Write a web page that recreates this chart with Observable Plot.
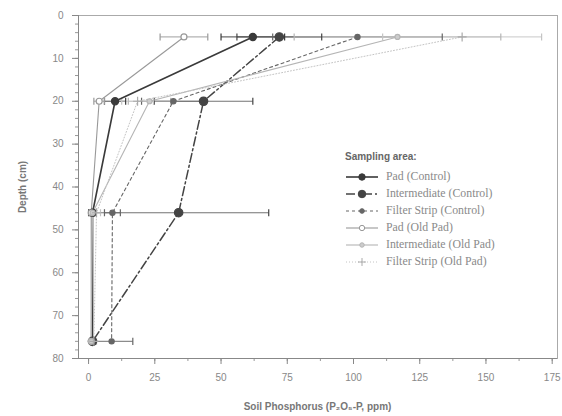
<!DOCTYPE html>
<html><head><meta charset="utf-8">
<script src="https://cdn.jsdelivr.net/npm/d3@7"></script>
<script src="https://cdn.jsdelivr.net/npm/@observablehq/plot@0.6"></script>
<style>
body{margin:0;background:#fff;}
#wrap{position:relative;width:562px;height:416px;overflow:hidden;}
#legend{position:absolute;left:345px;top:151px;font-family:"Liberation Serif",serif;font-size:11.8px;color:#8a8a8a;}
#legend .title{font-family:"Liberation Sans",Arial,sans-serif;font-weight:bold;font-size:10px;color:#666;height:17px;}
#legend .row{height:17px;display:flex;align-items:center;white-space:nowrap;}
#legend svg{margin-right:7px;}
#xlabel{position:absolute;top:401px;left:78px;width:479px;text-align:center;font-family:"Liberation Sans",Arial,sans-serif;font-size:10px;font-weight:bold;color:#777;}
#ylabel{position:absolute;left:22px;top:187px;transform:translate(-50%,-50%) rotate(-90deg);font-family:"Liberation Sans",Arial,sans-serif;font-size:10px;font-weight:bold;color:#777;white-space:nowrap;}
</style></head><body><div id="wrap"><div id="chart"></div><div id="legend"></div><div id="xlabel">Soil Phosphorus (P₂O₅-P, ppm)</div><div id="ylabel">Depth (cm)</div></div>
<script>
// ---- data ----
const depths = [5, 20, 46, 76];
const seriesNames = ["Pad (Control)", "Intermediate (Control)", "Filter Strip (Control)", "Pad (Old Pad)", "Intermediate (Old Pad)", "Filter Strip (Old Pad)"];
const padControl = [62, 10, 1.5, 1.5];
const padControlErr = [12, 4, 0.8, 0.5];
const intControl = [72, 43.4, 34, 1.5];
const intControlErr = [16, 18.6, 34, 0.5];
const filterControl = [101.5, 32, 9, 8.7];
const filterControlErr = [32, 12, 3, 8];
const padOld = [36, 4, 1, 1];
const padOldErr = [9, 2, 0.5, 0.5];
const intOld = [116.6, 23, 1.5, 1];
const intOldErr = [39, 8, 1, 0.5];
const filterOld = [141, 18.5, 3, 2];
const filterOldErr = [30, 6, 1.5, 1];
const xTicks = [0, 25, 50, 75, 100, 125, 150, 175];
const yTicks = [0, 10, 20, 30, 40, 50, 60, 70, 80];

const values = [padControl, intControl, filterControl, padOld, intOld, filterOld];
const errs = [padControlErr, intControlErr, filterControlErr, padOldErr, intOldErr, filterOldErr];

// ---- styles ----
const styles = [
  {stroke: "#3a3a3a", dash: null, width: 1.6, symbol: "circle", r: 3.6, fill: "#3a3a3a", mstroke: "#3a3a3a"},
  {stroke: "#444", dash: "9,3,2,3", width: 1.5, symbol: "circle", r: 4.2, fill: "#444", mstroke: "#444"},
  {stroke: "#666", dash: "3,3", width: 1.1, symbol: "circle", r: 2.6, fill: "#666", mstroke: "#666"},
  {stroke: "#999", dash: null, width: 1.1, symbol: "circle", r: 3, fill: "#fff", mstroke: "#999"},
  {stroke: "#b5b5b5", dash: null, width: 1.1, symbol: "circle", r: 2.5, fill: "#ccc", mstroke: "#b5b5b5"},
  {stroke: "#c4c4c4", dash: "1,2", width: 1, symbol: "plus", r: 3, fill: "none", mstroke: "#aaa"}
];

const rows = [];
seriesNames.forEach((s, i) => depths.forEach((d, j) => rows.push({series: s, idx: i, depth: d, p: values[i][j], err: errs[i][j]})));

const capSymbol = {draw(ctx, size) { const h = Math.sqrt(size) / 2; ctx.moveTo(0, -h); ctx.lineTo(0, h); }};

const marks = [
  Plot.frame({stroke: "#aaa", strokeWidth: 1}),
  Plot.axisY({ticks: d3.range(0, 81, 2), tickSize: 3, tickFormat: () => "", stroke: "#999", label: null}),
  Plot.axisY({ticks: yTicks, tickSize: 6, tickPadding: 9, fontSize: 10, stroke: "#888", fill: "#888", label: null}),
  Plot.axisX({ticks: d3.range(0, 176, 12.5), tickSize: 3, tickFormat: () => "", stroke: "#999", label: null}),
  Plot.axisX({ticks: xTicks, tickSize: 6, tickPadding: 9, fontSize: 10, stroke: "#888", fill: "#888", label: null}),
  Plot.ruleX([-3.8], {stroke: "#888"}),
  Plot.ruleY([80], {stroke: "#888"})
];

// error bars
const withErr = rows.filter(d => d.err > 0);
marks.push(Plot.link(withErr, {x1: d => d.p - d.err, x2: d => d.p + d.err, y1: "depth", y2: "depth", stroke: d => styles[d.idx].stroke, strokeOpacity: 0.75, strokeWidth: 1.2}));
marks.push(Plot.dot(withErr, {x: d => d.p - d.err, y: "depth", symbol: capSymbol, r: 4, stroke: d => styles[d.idx].stroke, strokeWidth: 1.2}));
marks.push(Plot.dot(withErr, {x: d => d.p + d.err, y: "depth", symbol: capSymbol, r: 4, stroke: d => styles[d.idx].stroke, strokeWidth: 1.2}));

// lines and markers
seriesNames.forEach((s, i) => {
  const st = styles[i];
  const data = rows.filter(d => d.idx === i);
  marks.push(Plot.line(data, {x: "p", y: "depth", stroke: st.stroke, strokeWidth: st.width, strokeDasharray: st.dash}));
});
seriesNames.forEach((s, i) => {
  const st = styles[i];
  const data = rows.filter(d => d.idx === i);
  marks.push(Plot.dot(data, {x: "p", y: "depth", symbol: st.symbol, r: st.r, fill: st.fill, stroke: st.mstroke, strokeWidth: 1.2}));
});

const chart = Plot.plot({
  width: 562, height: 416,
  marginTop: 15, marginBottom: 58, marginLeft: 78, marginRight: 5,
  style: {fontFamily: "'Liberation Sans', Arial, sans-serif", fontSize: "10px", color: "#888", background: "#fff"},
  x: {domain: [-3.8, 177], axis: null, label: null},
  y: {domain: [0, 80], reverse: true, axis: null, label: null},
  marks
});
document.getElementById("chart").appendChild(chart);

// legend
const legend = d3.select("#legend");
legend.append("div").attr("class", "title").text("Sampling area:");
seriesNames.forEach((s, i) => {
  const st = styles[i];
  const row = legend.append("div").attr("class", "row");
  const svg = row.append("svg").attr("width", 34).attr("height", 12);
  svg.append("line").attr("x1", 1).attr("x2", 33).attr("y1", 6).attr("y2", 6)
    .attr("stroke", st.stroke).attr("stroke-width", st.width).attr("stroke-dasharray", st.dash);
  const sym = d3.symbol().type(st.symbol === "plus" ? d3.symbolPlus : d3.symbolCircle).size(Math.PI * st.r * st.r * 0.8);
  svg.append("path").attr("d", sym()).attr("transform", "translate(17,6)")
    .attr("fill", st.fill).attr("stroke", st.mstroke).attr("stroke-width", 1);
  row.append("span").text(s);
});
</script>
</body></html>
